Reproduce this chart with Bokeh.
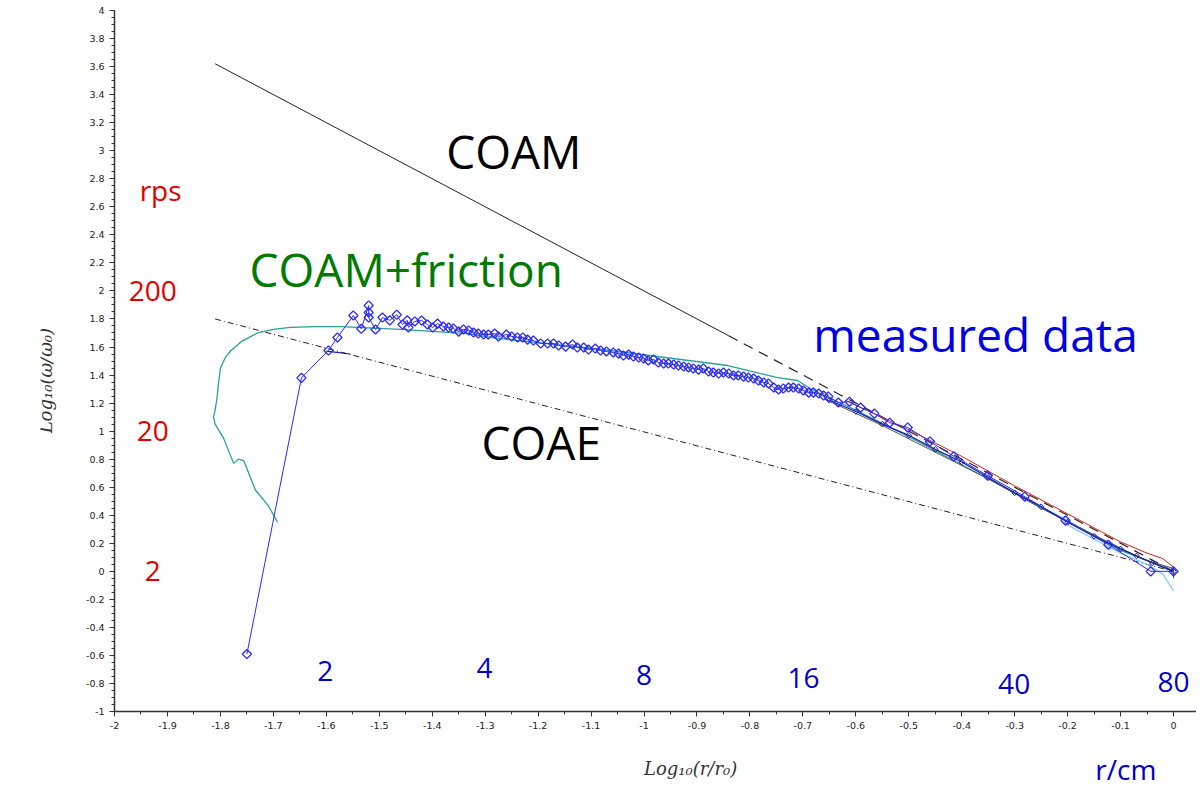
import math

from bokeh.plotting import figure
from bokeh.models import Label, FixedTicker, CustomJSTickFormatter, Range1d
from bokeh.embed import file_html
from bokeh.resources import INLINE

# measured data (blue diamonds), log10(r/r0) vs log10(w/w0)
meas_x = [-1.750, -1.647, -1.596, -1.579, -1.549, -1.534, -1.520, -1.520, -1.520, -1.507,
          -1.494, -1.480, -1.467, -1.456, -1.447, -1.445,
          -1.433, -1.420, -1.409, -1.399, -1.390, -1.379, -1.369, -1.360, -1.350, -1.341,
          -1.331, -1.322, -1.313, -1.303, -1.294, -1.282, -1.275, -1.260, -1.250, -1.239,
          -1.229, -1.220, -1.209, -1.195, -1.182, -1.171, -1.161, -1.148, -1.135, -1.126,
          -1.114, -1.105, -1.092, -1.082, -1.071, -1.058, -1.048,
          -1.039, -1.029, -1.020, -1.010, -1.001, -0.992, -0.982, -0.973, -0.963, -0.954,
          -0.944, -0.935, -0.925, -0.916, -0.907, -0.897, -0.888, -0.878, -0.869, -0.859,
          -0.850, -0.840, -0.831, -0.822, -0.812, -0.803, -0.793, -0.784, -0.774, -0.765,
          -0.755, -0.746, -0.737, -0.727, -0.718, -0.708, -0.699, -0.689, -0.680, -0.670,
          -0.661, -0.652,
          -0.633, -0.612, -0.591, -0.565, -0.536, -0.502, -0.460, -0.415, -0.351, -0.281,
          -0.204, -0.123, -0.043, 0.000]
meas_y = [-0.59, 1.38, 1.575, 1.668, 1.825, 1.73, 1.896, 1.846, 1.81, 1.725,
          1.81, 1.79, 1.83, 1.76, 1.79, 1.74,
          1.782, 1.789, 1.760, 1.739, 1.767, 1.746, 1.739, 1.732, 1.710, 1.725,
          1.718, 1.703, 1.696, 1.689, 1.689, 1.696, 1.675, 1.689, 1.675, 1.668,
          1.668, 1.653, 1.646, 1.625, 1.625, 1.625, 1.611, 1.603, 1.618, 1.596,
          1.596, 1.582, 1.589, 1.575, 1.568, 1.561, 1.553,
          1.539, 1.546, 1.532, 1.525, 1.518, 1.504, 1.511, 1.489, 1.482, 1.482,
          1.475, 1.468, 1.461, 1.454, 1.447, 1.439, 1.447, 1.425, 1.418, 1.411,
          1.418, 1.411, 1.397, 1.397, 1.389, 1.382, 1.375, 1.361, 1.347, 1.340,
          1.311, 1.297, 1.304, 1.311, 1.311, 1.304, 1.290, 1.275, 1.275, 1.268,
          1.254, 1.247,
          1.204, 1.21, 1.168, 1.125, 1.06, 1.026, 0.926, 0.82, 0.683, 0.533,
          0.362, 0.19, 0.0, 0.0]

# COAM + friction model (teal)
fric_x = [-1.692, -1.710, -1.734, -1.756, -1.766, -1.775, -1.794, -1.810, -1.813, -1.810,
          -1.806, -1.804, -1.800, -1.790, -1.780, -1.760, -1.730, -1.700, -1.668, -1.620,
          -1.573, -1.460, -1.333, -1.290, -1.063, -0.842, -0.748, -0.710, -0.686, -0.661,
          -0.600, -0.500, -0.400, -0.300, -0.200, -0.100, -0.030, 0.000]
fric_y = [0.35, 0.47, 0.58, 0.79, 0.80, 0.77, 0.95, 1.05, 1.10, 1.15,
          1.25, 1.33, 1.45, 1.53, 1.575, 1.64, 1.70, 1.725, 1.74, 1.746,
          1.746, 1.725, 1.696, 1.668, 1.575, 1.468, 1.382, 1.361, 1.304, 1.254,
          1.15, 0.96, 0.76, 0.56, 0.36, 0.15, 0.05, 0.0]

# other measured runs near the end
red_x = [-0.62, -0.50, -0.40, -0.30, -0.20, -0.10, -0.05, -0.02, 0.0]
red_y = [1.22, 1.01, 0.82, 0.61, 0.41, 0.21, 0.13, 0.09, 0.03]
navy_x = [-0.65, -0.60, -0.55, -0.50, -0.45, -0.40, -0.35, -0.30, -0.25, -0.20,
          -0.15, -0.10, -0.07, -0.04, 0.0]
navy_y = [1.22, 1.14, 1.05, 0.97, 0.87, 0.78, 0.67, 0.56, 0.46, 0.35,
          0.25, 0.16, 0.11, 0.06, 0.0]
grey_x = [-0.66, -0.55, -0.45, -0.35, -0.25, -0.15, -0.06, 0.0, 0.0]
grey_y = [1.23, 1.04, 0.85, 0.66, 0.45, 0.26, 0.09, 0.02, -0.05]
sky_x = [-0.20, -0.10, -0.05, -0.02, 0.0]
sky_y = [0.33, 0.13, 0.05, -0.02, -0.14]
stub_x = [-1.600, -1.555]
stub_y = [1.57, 1.55]

# theory lines
coam_x = [-1.81, -0.84]
coam_y = [3.62, 1.68]
coam_dash_x = [-0.84, 0.0]
coam_dash_y = [1.68, 0.0]
coae_x = [-1.81, 0.0]
coae_y = [1.80, 0.0]

# secondary scales written inside the plot
rps_labels = [200, 20, 2]
r_cm_labels = [2, 4, 8, 16, 40, 80]
r_cm_drop = [-0.71, -0.69, -0.74, -0.76, -0.80, -0.79]

X0, X1 = -2.1398, 0.0434
p = figure(width=1196, height=808, output_backend="svg", toolbar_location=None,
           x_range=Range1d(X0, X1), y_range=Range1d(-1.506, 4.057),
           min_border_left=40, min_border_right=0, min_border_top=2,
           min_border_bottom=26)
p.outline_line_color = None
p.grid.visible = False
p.background_fill_color = "white"

p.line(coae_x, coae_y, line_color="#222222", line_width=1, line_dash="6 3 1 3")
p.line(coam_x, coam_y, line_color="#222222", line_width=1)
p.line(coam_dash_x, coam_dash_y, line_color="#222222", line_width=1.2, line_dash="10 7")

p.line(fric_x, fric_y, line_color="#2aa198", line_width=1.3)
p.line(grey_x, grey_y, line_color="#555555", line_width=1)
p.line(sky_x, sky_y, line_color="#87cefa", line_width=1.3)
p.line(navy_x, navy_y, line_color="#1a1aa0", line_width=1.2)
p.scatter(navy_x, navy_y, marker="square", angle=math.pi / 4, size=4,
          line_color="#1a1aa0", fill_color=None)
p.line(red_x, red_y, line_color="#e02020", line_width=1)
p.line(stub_x, stub_y, line_color="#1a1aa0", line_width=1.2)

p.line(meas_x, meas_y, line_color="#2a2aff", line_width=1)
p.scatter(meas_x, meas_y, marker="square", angle=math.pi / 4, size=6.5, line_color="#2a2aff",
          line_width=1.3, fill_color=None)

# both axes are pinned inside the frame: x at y=-1, y at x=-2
p.xaxis.fixed_location = -1
p.yaxis.fixed_location = -2
p.xaxis.bounds = (-2, X1)
p.yaxis.bounds = (-1, 4)
p.xaxis.ticker = FixedTicker(ticks=[round(-2 + 0.1 * i, 1) for i in range(21)],
                             minor_ticks=[round(-2 + 0.05 * i, 2) for i in range(42)])
p.yaxis.ticker = FixedTicker(ticks=[round(-1 + 0.2 * i, 1) for i in range(26)],
                             minor_ticks=[round(-1 + 0.05 * i, 2) for i in range(101)])
fmt = "return String(Number(tick.toFixed(2)))"
p.xaxis.formatter = CustomJSTickFormatter(code=fmt)
p.yaxis.formatter = CustomJSTickFormatter(code=fmt)
for ax in (p.xaxis, p.yaxis):
    ax.axis_line_color = "#333333"
    ax.axis_line_width = 1.5
    ax.major_tick_line_color = "#333333"
    ax.minor_tick_line_color = "#333333"
    ax.major_tick_out = 5
    ax.major_tick_in = 0
    ax.minor_tick_out = 3
    ax.minor_tick_in = 0
    ax.major_label_text_font = "DejaVu Sans"
    ax.major_label_text_font_size = "9.5px"
    ax.major_label_text_color = "#222222"
    ax.major_label_standoff = 5

axis_text = dict(text_color="#333333", text_font="DejaVu Serif", text_font_style="italic",
                 text_font_size="18px", text_align="center", text_baseline="middle")
p.add_layout(Label(x=-0.912, y=-1.407, text="Log₁₀(r/r₀)", **axis_text))
p.add_layout(Label(x=-2.130, y=1.36, text="Log₁₀(ω/ω₀)", angle=math.pi / 2, **axis_text))

big = dict(text_font="Open Sans", text_font_size="46px", text_align="center",
           text_baseline="middle")
p.add_layout(Label(x=-1.246, y=3.0, text="COAM", text_color="black", **big))
p.add_layout(Label(x=-1.449, y=2.155, text="COAM+friction", text_color="#007a00", **big))
p.add_layout(Label(x=-0.374, y=1.69, text="measured data", text_color="#0000e6", **big))
p.add_layout(Label(x=-1.194, y=0.924, text="COAE", text_color="black", **big))

small = dict(text_font="Open Sans", text_font_size="28px", text_align="center",
             text_baseline="middle")
p.add_layout(Label(x=-1.913, y=2.72, text="rps", text_color="#e00000", **small))
for v in rps_labels:
    p.add_layout(Label(x=-1.928, y=math.log10(v / 2), text=str(v),
                       text_color="#e00000", **small))
for v, dy in zip(r_cm_labels, r_cm_drop):
    p.add_layout(Label(x=math.log10(v / 80), y=dy, text=str(v),
                       text_color="#0000cc", **small))
p.add_layout(Label(x=-0.09, y=-1.407, text="r/cm", text_color="#0000cc", **small))

open("out.html", "w").write(file_html(p, INLINE))
